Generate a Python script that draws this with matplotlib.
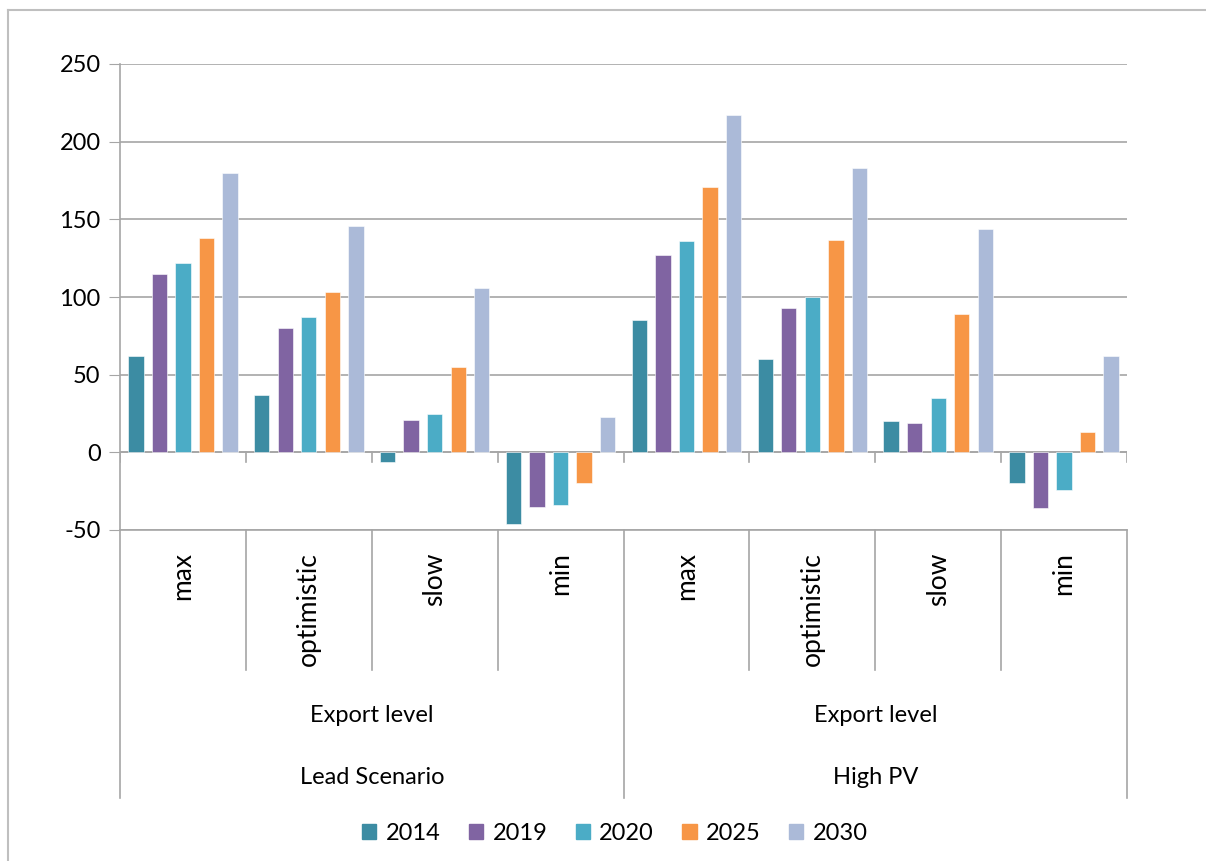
import matplotlib
matplotlib.use("Agg")
import matplotlib.pyplot as plt
import matplotlib.patches as mpatches
import numpy as np

plt.rcParams['font.family'] = ['Lato', 'DejaVu Sans']
plt.rcParams['axes.unicode_minus'] = False

# data
levels = ["max", "optimistic", "slow", "min"]
scenarios = ["Lead Scenario", "High PV"]
group_label = "Export level"
years = ["2014", "2019", "2020", "2025", "2030"]
colors = ["#3C8CA3", "#8064A2", "#4BACC6", "#F79646", "#ABBAD8"]

v2014 = [62, 37, -6, -46, 85, 60, 20, -20]
v2019 = [115, 80, 21, -35, 127, 93, 19, -36]
v2020 = [122, 87, 25, -34, 136, 100, 35, -24]
v2025 = [138, 103, 55, -20, 171, 137, 89, 13]
v2030 = [180, 146, 106, 23, 217, 183, 144, 62]
series = [v2014, v2019, v2020, v2025, v2030]

W, H = 1206, 861
fig = plt.figure(figsize=(W / 100, H / 100), dpi=100)

# outer chart frame (partly cut at right/bottom)
fig.add_artist(plt.Line2D([8 / W, 1], [1 - 10 / H, 1 - 10 / H], color="#BFBFBF", lw=1.5))
fig.add_artist(plt.Line2D([8 / W, 8 / W], [0, 1 - 10 / H], color="#BFBFBF", lw=1.5))

x0, x1, ytop, ybot = 120, 1127, 64, 530
ax = fig.add_axes([x0 / W, 1 - ybot / H, (x1 - x0) / W, (ybot - ytop) / H])

grid_c = "#A6A6A6"
n = len(levels) * len(scenarios)
x = np.arange(n)
step, bw = 0.187, 0.122
for i, (vals, c) in enumerate(zip(series, colors)):
    ax.bar(x + (i - 2) * step, vals, width=bw, color=c, edgecolor="white",
           linewidth=0.4, zorder=3)

ax.set_xlim(-0.5, n - 0.5)
ax.set_ylim(-50, 250)
ax.set_yticks(np.arange(-50, 251, 50))
ax.yaxis.grid(True, color=grid_c, lw=1.2, zorder=0)
ax.tick_params(axis="y", length=8, color=grid_c, labelsize=17, pad=6)
ax.set_xticks([])
for s in ["top", "right", "bottom"]:
    ax.spines[s].set_visible(False)
ax.spines["left"].set_color(grid_c)
ax.spines["left"].set_linewidth(1.2)

# zero axis with small tick marks between categories
ax.axhline(0, color=grid_c, lw=1.2, zorder=2)
for b in np.arange(-0.5, n, 1.0):
    ax.plot([b, b], [0, -6], color=grid_c, lw=1.2, zorder=2)

# multi-level category axis below the plot
tr = ax.get_xaxis_transform()
h = ybot - ytop
def fy(p):
    return (ybot - p) / h

ax.plot([-0.5, n - 0.5], [0, 0], transform=tr, color=grid_c, lw=1.2, clip_on=False)
for b in np.arange(-0.5, n, 1.0):
    if b in (-0.5, 3.5, n - 0.5):
        ax.plot([b, b], [0, fy(798)], transform=tr, color=grid_c, lw=1.2, clip_on=False)
    else:
        ax.plot([b, b], [0, fy(670)], transform=tr, color=grid_c, lw=1.2, clip_on=False)

for i in range(n):
    ax.text(x[i], fy(552), levels[i % len(levels)], transform=tr, rotation=90,
            ha="center", va="top", fontsize=19)
for j, sc in enumerate(scenarios):
    cx = j * len(levels) + (len(levels) - 1) / 2
    ax.text(cx, fy(715), group_label, transform=tr, ha="center", va="center", fontsize=17)
    ax.text(cx, fy(777), sc, transform=tr, ha="center", va="center", fontsize=17)

handles = [mpatches.Patch(color=c, label=y) for y, c in zip(years, colors)]
fig.legend(handles=handles, loc="center", bbox_to_anchor=(615 / W, 1 - 833 / H),
           ncol=5, frameon=False, fontsize=17, handlelength=0.6, handleheight=0.6,
           handletextpad=0.4, columnspacing=1.2)

fig.savefig("out.png", dpi=100)
